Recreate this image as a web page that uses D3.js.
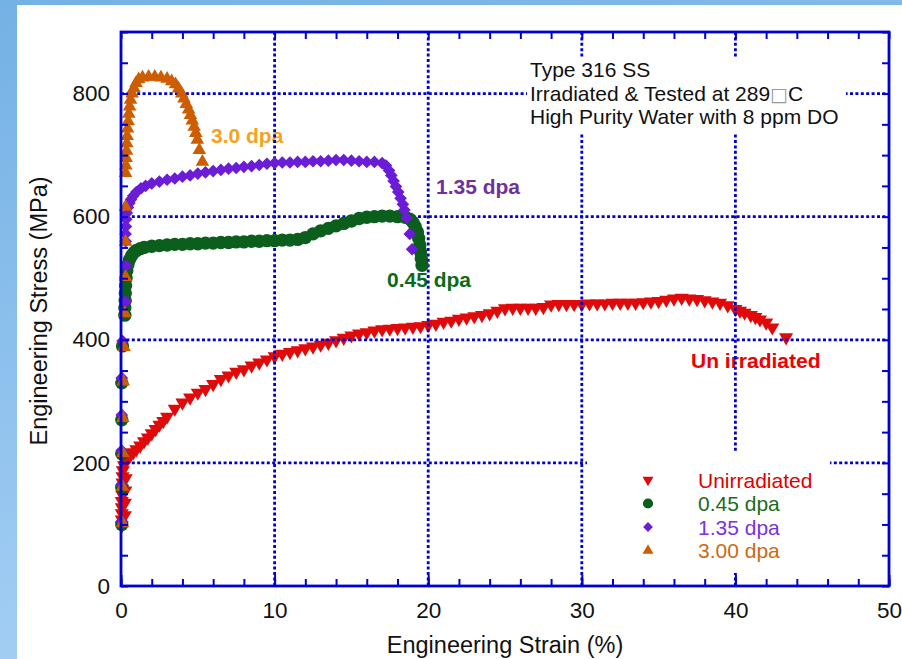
<!DOCTYPE html>
<html>
<head>
<meta charset="utf-8">
<script src="https://cdn.jsdelivr.net/npm/d3@7"></script>
<style>
  body { margin: 0; background: #8cc2ee; }
  svg { display: block; font-family: Arial, "Liberation Sans", Helvetica, sans-serif; }
</style>
</head>
<body>
<div id="chart"></div>
<script>
// [strain %, stress MPa]
var unirradiated = [
  [0.05, 98], [0.05, 108], [0.05, 118], [0.05, 128], [0.05, 138], [0.08, 148], [0.08, 158],
  [0.1, 168], [0.1, 178], [0.12, 188], [0.25, 115], [0.25, 135], [0.28, 155], [0.3, 175],
  [0.2, 196], [0.35, 204], [0.6, 212], [0.8, 217],
  [1.0, 222], [1.25, 228], [1.5, 235], [1.75, 241], [2.0, 248], [2.25, 255], [2.5, 262],
  [2.75, 268], [3.0, 275], [3.5, 288], [4.0, 298], [4.5, 306], [5.0, 314], [5.5, 320],
  [6.0, 328], [6.5, 336], [7.0, 342], [7.5, 348], [8.0, 352], [8.5, 358], [9.0, 363],
  [9.5, 368], [10.0, 373], [10.5, 377], [11.0, 380], [11.5, 383], [12.0, 386], [12.5, 389],
  [13.0, 392], [13.5, 395], [14.0, 399], [14.5, 403], [15.0, 407], [15.5, 410], [16.0, 412],
  [16.5, 415], [17.0, 417], [17.5, 418], [18.0, 419], [18.5, 420], [19.0, 421], [19.5, 422],
  [20.0, 424], [20.5, 426], [21.0, 429], [21.5, 431], [22.0, 434], [22.5, 436], [23.0, 438],
  [23.5, 440], [24.0, 443], [24.5, 447], [25.0, 451], [25.5, 452], [26.0, 452], [26.5, 452],
  [27.0, 452], [27.5, 453], [28.0, 457], [28.5, 458], [29.0, 458], [29.5, 458], [30.0, 458],
  [30.5, 459], [31.0, 459], [31.5, 459], [32.0, 460], [32.5, 460], [33.0, 460], [33.5, 460],
  [34.0, 461], [34.5, 462], [35.0, 463], [35.5, 465], [36.0, 467], [36.5, 468], [37.0, 467],
  [37.5, 466], [38.0, 464], [38.5, 462], [39.0, 460], [39.5, 456], [40.0, 450], [40.3, 447],
  [40.6, 444], [41.0, 440], [41.3, 437], [41.6, 433], [42.0, 428], [42.4, 420], [43.3, 404]
];
var dpa045 = [
  [0.05, 100], [0.05, 160], [0.05, 215], [0.05, 270], [0.05, 330], [0.1, 390], [0.25, 440],
  [0.25, 452], [0.27, 464], [0.28, 476], [0.3, 488], [0.33, 500], [0.38, 512], [0.45, 522],
  [0.55, 530], [0.7, 537], [0.85, 542], [1.0, 545], [1.25, 548], [1.5, 550], [2.0, 552],
  [2.5, 553], [3.0, 554], [3.5, 555], [4.0, 555], [4.5, 556], [5.0, 556], [5.5, 557],
  [6.0, 557], [6.5, 558], [7.0, 558], [7.5, 559], [8.0, 559], [8.5, 560], [9.0, 560],
  [9.5, 561], [10.0, 561], [10.5, 562], [11.0, 562], [11.5, 563], [12.0, 566], [12.5, 572],
  [13.0, 577], [13.5, 581], [14.0, 585], [14.5, 589], [15.0, 593], [15.5, 597], [16.0, 599],
  [16.5, 600], [17.0, 601], [17.5, 601], [18.0, 600], [18.5, 599], [18.8, 596], [19.0, 591],
  [19.15, 584], [19.3, 575], [19.38, 565], [19.45, 554], [19.5, 543], [19.55, 532], [19.6, 521]
];
var dpa135 = [
  [0.05, 105], [0.05, 165], [0.05, 220], [0.05, 278], [0.05, 338], [0.1, 398], [0.3, 462],
  [0.35, 520], [0.3, 560], [0.3, 572], [0.32, 584], [0.34, 596], [0.38, 606], [0.45, 615],
  [0.55, 622], [0.65, 628], [0.8, 634], [1.0, 640], [1.3, 646], [1.6, 650], [2.0, 654],
  [2.5, 657], [3.0, 660], [3.5, 662], [4.0, 665], [4.5, 667], [5.0, 670], [5.5, 672],
  [6.0, 674], [6.5, 676], [7.0, 678], [7.5, 679], [8.0, 681], [8.5, 682], [9.0, 684],
  [9.5, 686], [10.0, 687], [10.5, 688], [11.0, 688], [11.5, 689], [12.0, 689], [12.5, 690],
  [13.0, 690], [13.5, 691], [14.0, 692], [14.5, 692], [15.0, 691], [15.5, 690], [16.0, 689],
  [16.5, 689], [17.0, 687], [17.25, 683], [17.45, 675], [17.6, 667], [17.75, 658], [17.9, 649],
  [18.05, 640], [18.2, 630], [18.35, 620], [18.45, 611], [18.6, 598], [18.8, 572], [18.95, 547]
];
var dpa300 = [
  [0.1, 102], [0.1, 161], [0.12, 216], [0.12, 273], [0.15, 332], [0.2, 388], [0.25, 443],
  [0.3, 502], [0.3, 559], [0.3, 616], [0.3, 671], [0.32, 683], [0.34, 695], [0.36, 707],
  [0.38, 719], [0.4, 731], [0.43, 743], [0.47, 755], [0.51, 767], [0.56, 779], [0.62, 790],
  [0.72, 800], [0.84, 809], [0.98, 817], [1.15, 823], [1.4, 826], [1.8, 827], [2.2, 827],
  [2.6, 826], [3.0, 824], [3.3, 820], [3.55, 815], [3.75, 808], [3.95, 800], [4.1, 792],
  [4.25, 783], [4.4, 774], [4.52, 765], [4.64, 756], [4.76, 746], [4.87, 736], [4.97, 725],
  [5.1, 708], [5.3, 689]
];

var xTicks = [0, 10, 20, 30, 40, 50];
var yTicks = [0, 200, 400, 600, 800];
var legendNames = ["Unirradiated", "0.45 dpa", "1.35 dpa", "3.00 dpa"];
var noteLines = ["Type 316 SS", "Irradiated & Tested at 289", "High Purity Water with 8 ppm DO"];

var width = 902, height = 659;
var blue = "#0000d2";

var svg = d3.select("#chart").append("svg").attr("width", width).attr("height", height);

var defs = svg.append("defs");
var grad = defs.append("linearGradient").attr("id", "bg").attr("x1", 0).attr("y1", 0).attr("x2", 0.3).attr("y2", 1);
grad.append("stop").attr("offset", "0%").attr("stop-color", "#74b1e4");
grad.append("stop").attr("offset", "100%").attr("stop-color", "#a6d0f5");
svg.append("rect").attr("width", width).attr("height", height).attr("fill", "url(#bg)");
svg.append("rect").attr("x", 17).attr("y", 5).attr("width", width - 17).attr("height", height - 5).attr("fill", "#fff");

var x = d3.scaleLinear().domain([0, 50]).range([121, 889]);
var y = d3.scaleLinear().domain([0, 900]).range([586, 32]);

var series = [
  { data: unirradiated, symbol: d3.symbolTriangle, rot: 180, size: 86, leg: 52, color: "#e00a0a", text: "#e00000" },
  { data: dpa045, symbol: d3.symbolCircle, rot: 0, size: 140, leg: 82, color: "#0b5e1b", text: "#1d6a1d" },
  { data: dpa135, symbol: d3.symbolSquare, rot: 45, size: 80, leg: 48, color: "#6a1cd6", text: "#7a32e0" },
  { data: dpa300, symbol: d3.symbolTriangle, rot: 0, size: 80, leg: 52, color: "#cc5d00", text: "#cc6a12" }
];

function drawSeries(s) {
  svg.append("g").selectAll("path").data(s.data).enter().append("path")
    .attr("d", d3.symbol().type(s.symbol).size(s.size))
    .attr("transform", function (d) {
      return "translate(" + x(d[0]) + "," + y(d[1]) + ") rotate(" + s.rot + ")";
    })
    .attr("fill", s.color);
}

drawSeries(series[0]);

// curve labels
var labels = svg.append("g").attr("font-weight", "bold").attr("font-size", 21);
labels.append("text").attr("x", 211).attr("y", 143).attr("fill", "#f5a31c").text("3.0 dpa");
labels.append("text").attr("x", 436).attr("y", 194).attr("fill", "#7030a0").text("1.35 dpa");
labels.append("text").attr("x", 387).attr("y", 287).attr("fill", "#0b6b18").text("0.45 dpa");
labels.append("text").attr("x", 691).attr("y", 368).attr("fill", "#ee0000").text("Un irradiated");

// dotted major grid
var grid = svg.append("g").attr("stroke", blue).attr("stroke-width", 2.8).attr("stroke-dasharray", "3,2.4");
grid.selectAll(".gx").data(xTicks.slice(1, -1)).enter().append("line")
  .attr("x1", function (d) { return x(d); }).attr("x2", function (d) { return x(d); })
  .attr("y1", y(900)).attr("y2", y(0));
grid.selectAll(".gy").data(yTicks.slice(1)).enter().append("line")
  .attr("y1", function (d) { return y(d); }).attr("y2", function (d) { return y(d); })
  .attr("x1", x(0)).attr("x2", x(50));

series.slice(1).forEach(drawSeries);

// note box
var note = svg.append("g").attr("font-size", 21).attr("fill", "#111");
note.append("rect").attr("x", 527).attr("y", 57).attr("width", 319).attr("height", 76).attr("fill", "#fff");
note.selectAll("text").data(noteLines).enter().append("text")
  .attr("x", 530).attr("y", function (d, i) { return 77 + i * 23.5; })
  .each(function (d, i) {
    var t = d3.select(this);
    t.append("tspan").text(d);
    if (i === 1) {
      t.append("tspan").attr("fill", "#999").attr("font-family", "DejaVu Sans").attr("font-size", 19).text("\u25A1");
      t.append("tspan").text("C");
    }
  });

// legend
var legend = svg.append("g");
legend.append("rect").attr("x", 587).attr("y", 452).attr("width", 243).attr("height", 121).attr("fill", "#fff");
var rows = legend.selectAll(".row").data(series).enter().append("g")
  .attr("transform", function (d, i) { return "translate(648," + (480 + i * 23.5) + ")"; });
rows.append("path")
  .attr("d", function (d) { return d3.symbol().type(d.symbol).size(d.leg)(); })
  .attr("transform", function (d) { return "rotate(" + d.rot + ")"; })
  .attr("fill", function (d) { return d.color; });
rows.append("text").attr("x", 50).attr("dy", "0.36em").attr("font-size", 21)
  .attr("fill", function (d) { return d.text; })
  .text(function (d, i) { return legendNames[i]; });

// frame and inward ticks
var minorX = d3.range(0, 51, 2), minorY = d3.range(0, 901, 50);
function styleAxis(g) {
  g.select(".domain").remove();
  g.selectAll(".tick line").attr("stroke", blue).attr("stroke-width", 2);
  g.selectAll(".tick text").remove();
}
svg.append("g").attr("transform", "translate(0," + y(0) + ")")
  .call(d3.axisTop(x).tickValues(minorX).tickSize(7)).call(styleAxis);
svg.append("g").attr("transform", "translate(0," + y(900) + ")")
  .call(d3.axisBottom(x).tickValues(minorX).tickSize(7)).call(styleAxis);
svg.append("g").attr("transform", "translate(" + x(0) + ",0)")
  .call(d3.axisRight(y).tickValues(minorY).tickSize(7)).call(styleAxis);
svg.append("g").attr("transform", "translate(" + x(50) + ",0)")
  .call(d3.axisLeft(y).tickValues(minorY).tickSize(7)).call(styleAxis);
svg.append("g").attr("transform", "translate(0," + y(0) + ")")
  .call(d3.axisTop(x).tickValues(xTicks).tickSize(11)).call(styleAxis);

svg.append("rect").attr("x", x(0)).attr("y", y(900)).attr("width", x(50) - x(0)).attr("height", y(0) - y(900))
  .attr("fill", "none").attr("stroke", blue).attr("stroke-width", 2.8);

// tick labels
var xAxis = svg.append("g").attr("transform", "translate(0," + y(0) + ")")
  .call(d3.axisBottom(x).tickValues(xTicks).tickSize(0).tickPadding(16));
var yAxis = svg.append("g").attr("transform", "translate(" + x(0) + ",0)")
  .call(d3.axisLeft(y).tickValues(yTicks).tickSize(0).tickPadding(11));
[xAxis, yAxis].forEach(function (g) {
  g.select(".domain").remove();
  g.selectAll("text").attr("font-size", 22.5).attr("fill", "#111").attr("font-family", null);
});

// axis titles
svg.append("text").attr("x", 505).attr("y", 653).attr("text-anchor", "middle")
  .attr("font-size", 23.5).attr("fill", "#111").text("Engineering Strain (%)");
svg.append("text").attr("transform", "translate(47,311) rotate(-90)").attr("text-anchor", "middle")
  .attr("font-size", 23.5).attr("fill", "#111").text("Engineering Stress (MPa)");
</script>
</body>
</html>
